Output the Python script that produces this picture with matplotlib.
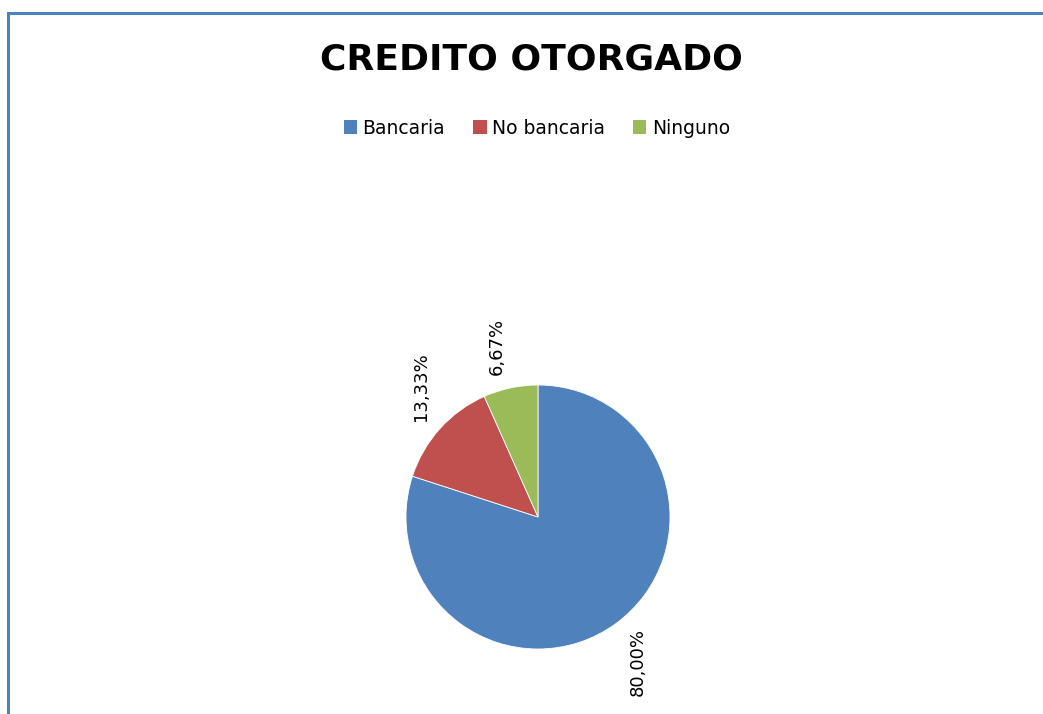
import matplotlib.pyplot as plt
from matplotlib.patches import Patch, Rectangle

# data
categories = ['Bancaria', 'No bancaria', 'Ninguno']
shares = [80.00, 13.33, 6.67]
colors = ['#4F81BD', '#C0504D', '#9BBB59']

W, H = 1043, 714
fig = plt.figure(figsize=(W / 100, H / 100), dpi=100)
fig.patch.set_facecolor('white')

# chart frame (cut off on right and bottom like the screenshot)
fig.patches.append(Rectangle((7.5 / W, -0.1), 1.2, 1.1 - 13.5 / H,
                             transform=fig.transFigure, fill=False,
                             edgecolor='#4F81BD', linewidth=2.2))

fig.text(531 / W, 1 - 60 / H, 'CREDITO OTORGADO', ha='center', va='center',
         fontsize=26, fontweight='bold', color='black')

handles = [Patch(facecolor=c, edgecolor='none') for c in colors]
fig.legend(handles, categories, loc='center', bbox_to_anchor=(537 / W, 1 - 128 / H),
           ncol=3, frameon=False, fontsize=13.5, handlelength=0.7, handleheight=0.7,
           handletextpad=0.3, columnspacing=1.5)

# pie axes: center (538,517) px, radius 132 px
r = 132
ax = fig.add_axes([(538 - r) / W, (H - 517 - r) / H, 2 * r / W, 2 * r / H])
wedges, texts = ax.pie(shares, colors=colors, startangle=90, counterclock=False,
                       labels=[('%.2f%%' % v).replace('.', ',') for v in shares],
                       labeldistance=1.33,
                       wedgeprops=dict(edgecolor='white', linewidth=0.6))
# nudge labels toward where the original sits (angle in degrees)
nudge = [-1.5, -6, 1.5]
for t, w, d in zip(texts, wedges, nudge):
    import numpy as np
    a = np.deg2rad((w.theta1 + w.theta2) / 2 + d)
    t.set_position((1.33 * np.cos(a), 1.33 * np.sin(a)))
    t.set_rotation(90)
    t.set_ha('center')
    t.set_va('center')
    t.set_fontsize(13)
ax.set_xlim(-1, 1)
ax.set_ylim(-1, 1)
ax.set_aspect('equal')
ax.axis('off')

fig.savefig('out.png', dpi=100)
